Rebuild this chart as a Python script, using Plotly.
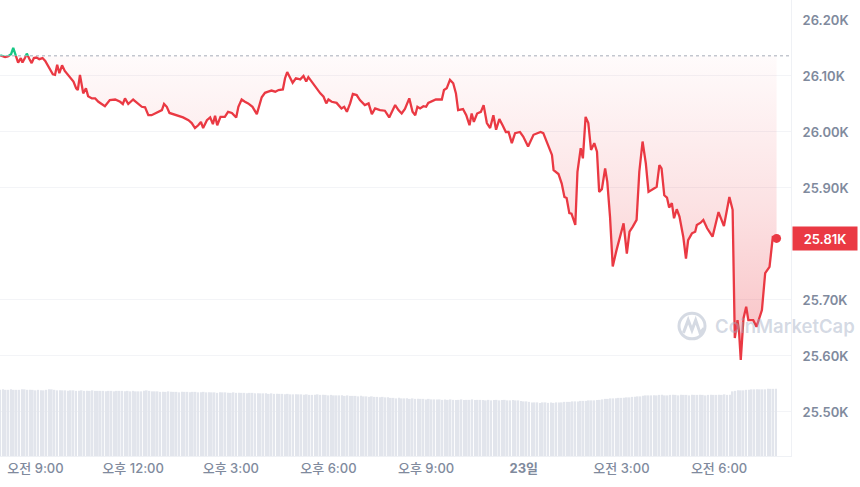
import pandas as pd
import plotly.graph_objects as go

# ---------------- data ----------------
DAY0 = pd.Timestamp("2023-08-22")
OPEN_PRICE = 26136

# minutes since 22일 00:00
price_minutes = [
    475, 484, 489, 495, 499, 505, 508, 513, 516, 521,
    524, 529, 533, 537, 542, 547, 553, 558, 565, 572,
    576, 580, 584, 589, 594, 604, 610, 615, 618, 622,
    625, 628, 633, 637, 644, 650, 656, 662, 668, 677,
    687, 696, 701, 705, 711, 720, 727, 736, 742, 748,
    754, 763, 773, 777, 782, 787, 794, 803, 812, 822,
    828, 834, 840, 845, 849, 856, 862, 867, 871, 875,
    881, 889, 895, 902, 910, 914, 920, 926, 932, 940,
    948, 957, 963, 969, 975, 982, 988, 996, 1000, 1004,
    1009, 1014, 1020, 1028, 1034, 1039, 1043, 1049, 1057, 1065,
    1071, 1076, 1080, 1086, 1095, 1104, 1109, 1114, 1120, 1125,
    1132, 1138, 1147, 1154, 1160, 1166, 1175, 1184, 1192, 1203,
    1209, 1215, 1221, 1229, 1235, 1240, 1244, 1249, 1255, 1260,
    1264, 1270, 1278, 1289, 1293, 1298, 1304, 1310, 1315, 1319,
    1328, 1334, 1340, 1344, 1348, 1354, 1361, 1366, 1372, 1378,
    1384, 1389, 1395, 1401, 1407, 1412, 1418, 1424, 1433, 1439,
    1448, 1458, 1467, 1471, 1476, 1485, 1492, 1495, 1504, 1510,
    1515, 1519, 1524, 1528, 1535, 1539, 1545, 1549, 1554, 1559,
    1564, 1570, 1575, 1579, 1584, 1590, 1594, 1599, 1604, 1611,
    1617, 1624, 1630, 1635, 1641, 1648, 1653, 1659, 1665, 1670,
    1680, 1685, 1690, 1694, 1699, 1704, 1708, 1713, 1717, 1722,
    1727, 1734, 1739, 1743, 1750, 1756, 1759, 1766, 1771, 1778,
    1788, 1799, 1809, 1819, 1825, 1829, 1834, 1837, 1840, 1845,
    1850, 1854, 1863, 1869, 1879, 1885, 1893, 1899, 1906,
]

prices = [
    26137, 26134, 26135, 26139, 26150, 26134, 26124, 26132, 26124, 26133,
    26140, 26130, 26123, 26132, 26133, 26130, 26132, 26127, 26114, 26103,
    26102, 26120, 26105, 26119, 26109, 26096, 26090, 26078, 26075, 26102,
    26084, 26069, 26078, 26064, 26060, 26060, 26054, 26050, 26046, 26057,
    26058, 26054, 26050, 26060, 26050, 26058, 26052, 26045, 26044, 26030,
    26030, 26034, 26039, 26050, 26045, 26034, 26032, 26029, 26026, 26021,
    26016, 26007, 26012, 26018, 26007, 26021, 26026, 26014, 26029, 26012,
    26027, 26027, 26036, 26034, 26026, 26045, 26058, 26054, 26051, 26045,
    26032, 26062, 26070, 26072, 26074, 26072, 26075, 26076, 26096, 26107,
    26096, 26088, 26096, 26094, 26100, 26090, 26098, 26090, 26078, 26069,
    26063, 26051, 26058, 26054, 26052, 26042, 26045, 26036, 26051, 26068,
    26066, 26057, 26048, 26051, 26032, 26042, 26039, 26038, 26026, 26048,
    26039, 26033, 26041, 26060, 26036, 26030, 26045, 26042, 26046, 26045,
    26052, 26054, 26058, 26058, 26075, 26078, 26093, 26087, 26069, 26039,
    26041, 26030, 26012, 26033, 26018, 26033, 26036, 26048, 26016, 26007,
    26030, 26004, 26023, 26012, 26000, 26000, 25980, 25998, 26000, 25992,
    25974, 25995, 25998, 26000, 25998, 25974, 25959, 25932, 25925, 25908,
    25884, 25882, 25855, 25854, 25834, 25929, 25971, 25953, 26027, 26016,
    25968, 25980, 25965, 25893, 25898, 25935, 25911, 25849, 25760, 25789,
    25810, 25837, 25783, 25822, 25831, 25843, 25929, 25983, 25944, 25893,
    25899, 25902, 25941, 25935, 25887, 25883, 25865, 25873, 25846, 25862,
    25849, 25813, 25774, 25807, 25819, 25822, 25834, 25838, 25843, 25828,
    25813, 25857, 25832, 25884, 25861, 25632, 25664, 25641, 25593, 25667,
    25688, 25664, 25664, 25652, 25682, 25748, 25759, 25812, 25810,
]

# 5-minute volume bars (billions), first bar at 07:55
VOL_START_MIN = 475
VOL_STEP_MIN = 5
volumes = [
    13.2, 13.3, 13.2, 13.2, 13.3, 13.2, 13.2, 13.2, 13.3, 13.3, 13.2, 13.2,
    13.2, 13.1, 13.2, 13.1, 13.1, 13.2, 13.3, 13.3, 13.2, 13.1, 13.1, 13.1,
    13.1, 13.0, 13.1, 13.1, 13.0, 13.0, 13.1, 13.0, 13.0, 13.0, 13.1, 13.0,
    13.0, 13.0, 13.0, 12.9, 13.0, 13.0, 12.9, 13.0, 13.0, 13.0, 12.9, 13.0,
    12.9, 13.0, 12.9, 12.9, 12.9, 13.0, 13.1, 13.0, 12.9, 12.9, 12.9, 12.8,
    12.8, 12.8, 12.9, 12.8, 12.8, 12.8, 12.7, 12.8, 12.8, 12.8, 12.7, 12.8,
    12.8, 12.7, 12.7, 12.8, 12.7, 12.7, 12.7, 12.7, 12.6, 12.7, 12.7, 12.7,
    12.6, 12.6, 12.7, 12.6, 12.6, 12.6, 12.6, 12.5, 12.6, 12.6, 12.5, 12.5,
    12.5, 12.5, 12.5, 12.4, 12.5, 12.4, 12.4, 12.4, 12.4, 12.3, 12.4, 12.3,
    12.3, 12.3, 12.3, 12.3, 12.2, 12.3, 12.2, 12.2, 12.2, 12.3, 12.2, 12.2,
    12.2, 12.1, 12.2, 12.1, 12.1, 12.1, 12.1, 12.0, 12.1, 12.0, 12.0, 12.0,
    11.9, 12.0, 11.9, 11.9, 11.8, 11.9, 11.8, 11.8, 11.7, 11.8, 11.7, 11.7,
    11.6, 11.6, 11.5, 11.6, 11.5, 11.5, 11.5, 11.4, 11.5, 11.4, 11.4, 11.4,
    11.4, 11.3, 11.4, 11.3, 11.3, 11.3, 11.3, 11.2, 11.3, 11.2, 11.3, 11.2,
    11.2, 11.2, 11.3, 11.2, 11.2, 11.2, 11.3, 11.2, 11.2, 11.2, 11.2, 11.1,
    11.2, 11.1, 11.2, 11.2, 11.1, 11.2, 11.2, 11.1, 11.1, 11.2, 11.1, 11.1,
    11.0, 10.9, 10.9, 10.8, 10.7, 10.7, 10.7, 10.6, 10.7, 10.7, 10.6, 10.7,
    10.6, 10.7, 10.7, 10.7, 10.8, 10.8, 10.8, 10.9, 10.9, 10.9, 11.0, 11.0,
    11.0, 11.1, 11.1, 11.1, 11.2, 11.2, 11.3, 11.4, 11.4, 11.5, 11.5, 11.5,
    11.6, 11.6, 11.6, 11.7, 11.7, 11.8, 11.8, 11.9, 11.9, 12.0, 12.1, 12.1,
    12.1, 12.1, 12.1, 12.2, 12.2, 12.1, 12.1, 12.2, 12.2, 12.2, 12.1, 12.2,
    12.2, 12.2, 12.1, 12.2, 12.2, 12.2, 12.2, 12.2, 12.1, 12.2, 12.2, 12.2,
    12.2, 12.2, 12.2, 12.3, 12.2, 12.2, 12.9, 13.0, 13.1, 13.1, 13.1, 13.2,
    13.2, 13.3, 13.3, 13.3, 13.3, 13.3, 13.3, 13.4, 13.4, 13.4, 13.4,
]

x_tick_minutes = [540, 720, 900, 1080, 1260, 1440, 1620, 1800]
x_tick_labels = ["오전 9:00", "오후 12:00", "오후 3:00", "오후 6:00", "오후 9:00",
                 "<b>23일</b>", "오전 3:00", "오전 6:00"]
y_tick_values = [25500, 25600, 25700, 25800, 25900, 26000, 26100, 26200]
y_tick_labels = ["25.50K", "25.60K", "25.70K", "25.80K", "25.90K", "26.00K", "26.10K", "26.20K"]
y_tick_values_shown = [v for v in y_tick_values if v != 25800]
y_tick_labels_shown = [t for v, t in zip(y_tick_values, y_tick_labels) if v != 25800]

# ---------------- style ----------------
RED = "#ea3943"
GREEN = "#16c784"
GREY_TXT = "#808a9d"
WM = "rgba(160,172,195,0.45)"
FONT = "Inter, Noto Sans CJK KR, sans-serif"
Y_MIN, Y_MAX = 25421.4, 26235.7
X_MIN_MIN, X_MAX_MIN = 474.6, 1932.6

times = [DAY0 + pd.Timedelta(minutes=m) for m in price_minutes]
vol_times = [DAY0 + pd.Timedelta(minutes=VOL_START_MIN + i * VOL_STEP_MIN) for i in range(len(volumes))]

fig = go.Figure()

fig.add_trace(go.Bar(x=vol_times, y=volumes, yaxis="y2", marker=dict(color="#e2e5ec", line_width=0),
                     hoverinfo="skip", showlegend=False))

fig.add_trace(go.Scatter(x=[times[0], times[-1]], y=[OPEN_PRICE, OPEN_PRICE], mode="lines",
                         line=dict(width=0, color="rgba(0,0,0,0)"), hoverinfo="skip", showlegend=False))

fig.add_trace(go.Scatter(
    x=times, y=prices, mode="lines", line=dict(color=RED, width=2.3),
    fill="tonexty",
    fillgradient=dict(type="vertical", start=min(prices), stop=OPEN_PRICE,
                      colorscale=[[0, "rgba(234,57,67,0.32)"], [0.5, "rgba(234,57,67,0.15)"],
                                  [1, "rgba(234,57,67,0.02)"]]),
    showlegend=False, hoverinfo="skip"))

# green part above the open price: drawn in a sub-area clipped at the open price
frac = (OPEN_PRICE - Y_MIN) / (Y_MAX - Y_MIN)
fig.add_trace(go.Scatter(x=times, y=prices, mode="lines", yaxis="y3",
                         line=dict(color=GREEN, width=2.3), showlegend=False, hoverinfo="skip"))

fig.add_trace(go.Scatter(x=[times[-1]], y=[prices[-1]], mode="markers",
                         marker=dict(color=RED, size=9), showlegend=False, hoverinfo="skip"))

fig.add_shape(type="line", xref="paper", x0=0, x1=1, yref="y", y0=OPEN_PRICE, y1=OPEN_PRICE,
              line=dict(color="#a6acb8", width=1, dash="dot"))

# watermark
fig.add_shape(type="circle", xref="paper", yref="paper", layer="below",
              x0=0.8584, x1=0.8913, y0=0.257, y1=0.313, line=dict(color="#d5dae3", width=3))
fig.add_shape(type="path", xref="paper", yref="paper", layer="below",
              path="M 0.8640 0.270 L 0.8700 0.298 L 0.8748 0.276 L 0.8795 0.298 L 0.8850 0.270 L 0.8900 0.280",
              line=dict(color="#d5dae3", width=3))
fig.add_annotation(text="CoinMarketCap", xref="paper", yref="paper", x=0.901, y=0.285,
                   xanchor="left", yanchor="middle", showarrow=False,
                   font=dict(family=FONT, size=18.5, color=WM, weight=600))

fig.add_annotation(text="25.81K", xref="paper", yref="y", x=1, y=prices[-1], xshift=1,
                   xanchor="left", yanchor="middle", showarrow=False, width=60, height=19,
                   bgcolor=RED, borderpad=2, align="center",
                   font=dict(family=FONT, size=13, color="white", weight=600))

fig.update_layout(
    width=860, height=487,
    margin=dict(l=0, r=69, t=0, b=31, autoexpand=False),
    paper_bgcolor="white", plot_bgcolor="white",
    bargap=0.35,
    font=dict(family=FONT, color=GREY_TXT, size=13),
    xaxis=dict(
        range=[DAY0 + pd.Timedelta(minutes=X_MIN_MIN), DAY0 + pd.Timedelta(minutes=X_MAX_MIN)],
        tickvals=[DAY0 + pd.Timedelta(minutes=m) for m in x_tick_minutes],
        ticktext=x_tick_labels, showgrid=False, zeroline=False,
        showline=True, linecolor="#eff1f5", linewidth=1, ticks="",
        tickfont=dict(size=13, color=GREY_TXT, weight=500),
    ),
    yaxis=dict(
        range=[Y_MIN, Y_MAX], side="right", tickvals=y_tick_values_shown, ticktext=y_tick_labels_shown,
        showgrid=True, gridcolor="#f3f4f7", gridwidth=1, zeroline=False,
        showline=True, linecolor="#eff1f5", linewidth=1, ticks="",
        tickfont=dict(size=13, color=GREY_TXT, weight=600), ticklabelstandoff=8,
    ),
    yaxis2=dict(range=[0, 91], overlaying="y", visible=False, fixedrange=True),
    yaxis3=dict(range=[OPEN_PRICE, Y_MAX], domain=[frac, 1], anchor="x", visible=False),
)

fig.write_html("out.html", config={"displayModeBar": False},
               post_script="document.body.style.margin='0px';")
